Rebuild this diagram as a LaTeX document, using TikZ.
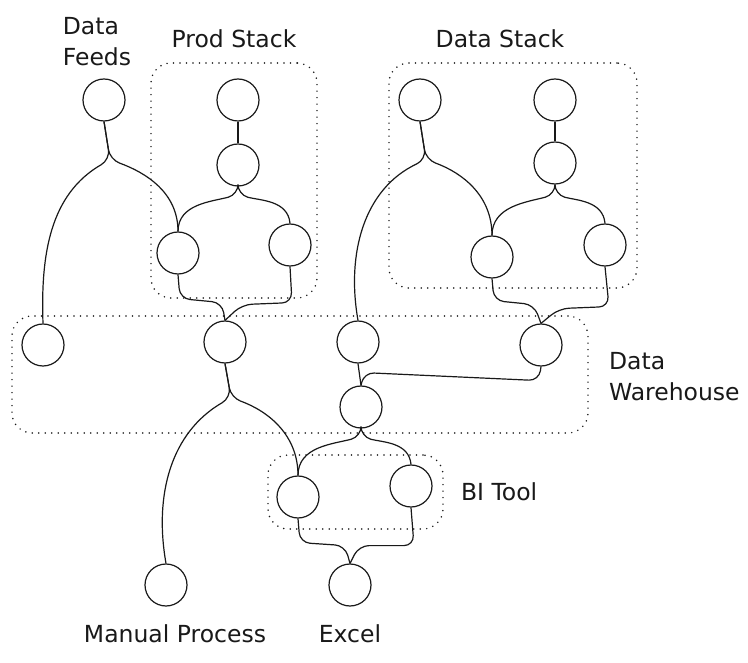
\documentclass[tikz,border=0pt]{standalone}
\usepackage{fontspec}
\setmainfont{DejaVu Sans}
\usepackage{tikz}
\usetikzlibrary{positioning}
\usetikzlibrary{calc}
\definecolor{color0}{RGB}{25,25,25}
\tikzstyle{circleNode} = [circle, draw=color0, line width=1.2pt, minimum size=42pt, inner sep=0pt]
\tikzstyle{groupBox} = [rectangle, draw=color0, rounded corners=20pt, line width=1.7pt, dash pattern=on 0pt off 6.5pt, line cap=round]
\tikzstyle{linkLine} = [draw=color0, line width=1.2pt, rounded corners=10pt]
\tikzstyle{labelText} = [text=color0, align=left, inner sep=0pt]

\begin{document}
\begin{tikzpicture}[font=\fontsize{23.5}{31}\selectfont]
	\useasboundingbox (0,0) rectangle (748pt,-663pt);
	
	\node[circleNode] at (104pt,-100pt) (Feed-A) {};
	
	\node[circleNode] at ([xshift=134pt]Feed-A.center) (Prod-A) {};
	\node[circleNode] at ([yshift=-65pt]Prod-A.center) (Prod-B) {};
	\node[circleNode] at ([xshift=-60pt, yshift=-88pt]Prod-B.center) (Prod-C) {};
	\node[circleNode] at ([xshift=52pt, yshift=-80pt]Prod-B.center) (Prod-D) {};
	
	\node[circleNode] at ([xshift=182pt]Prod-A.center) (Stack-A) {};
	\node[circleNode] at ([xshift=135pt]Stack-A.center) (Stack-B) {};
	\node[circleNode] at ([yshift=-63pt]Stack-B.center) (Stack-C) {};
	\node[circleNode] at ([xshift=-63pt, yshift=-94pt]Stack-C.center) (Stack-D) {};
	\node[circleNode] at ([xshift=50pt, yshift=-82pt]Stack-C.center) (Stack-E) {};
	
	\node[circleNode] at ([xshift=-61pt, yshift=-245pt]Feed-A.center) (Ware-A) {};
	\node[circleNode] at ([xshift=47pt, yshift=-89pt]Prod-C.center) (Ware-B) {};
	\node[circleNode] at ([xshift=133pt]Ware-B.center) (Ware-C) {};
	\node[circleNode] at ([xshift=49pt, yshift=-88pt]Stack-D.center) (Ware-D) {};
	\node[circleNode] at ([xshift=3pt, yshift=-65pt]Ware-C.center) (Ware-E) {};
	
	\node[circleNode] at ([xshift=-63pt, yshift=-90pt]Ware-E.center) (Tool-A) {};
	\node[circleNode] at ([xshift=50pt, yshift=-79pt]Ware-E.center) (Tool-B) {};
	
	\node[circleNode] at ([xshift=-59pt, yshift=-243pt]Ware-B.center) (Manual) {};
	\node[circleNode] at ([xshift=52pt, yshift=-88pt]Tool-A.center) (Excel) {};
	
	% group boxes
	\node[groupBox, minimum width=166pt, minimum height=235pt] at ([xshift=-4pt, yshift=-15.5pt]Prod-B.center) (Prod-Box) {};
	\node[groupBox, minimum width=248pt, minimum height=225pt] at ([xshift=-42pt, yshift=-12.5pt]Stack-C.center) (Stack-Box) {};
	\node[groupBox, minimum width=576pt, minimum height=117pt] at ([xshift=-58pt, yshift=-32.5pt]Ware-C.center) (Ware-Box) {};
	\node[groupBox, minimum width=175pt, minimum height=74pt] at ([xshift=-5.5pt, yshift=-85pt]Ware-E.center) (Tool-Box) {};
	
	% labels
	\node[labelText, anchor=south] at ([xshift=-7pt, yshift=12pt]Feed-A.north) (Feed-Label) {Data\\Feeds};
	\node[labelText, anchor=south] at ([yshift=14pt]Prod-Box.north) (Prod-Label) {Prod Stack};
	\node[labelText, anchor=south] at ([xshift=-13pt, yshift=14pt]Stack-Box.north) (Stack-Label) {Data Stack};
	\node[labelText, anchor=west] at ([xshift=20pt, yshift=-2pt]Ware-Box.east) (Ware-Label) {Data\\Warehouse};
	\node[labelText, anchor=west] at ([xshift=17pt]Tool-Box.east) (Tool-Label) {BI Tool};
	\node[labelText, anchor=north] at ([xshift=9pt, yshift=-18pt]Manual.south) (Manual-Label) {Manual Process};
	\node[labelText, anchor=north] at ([yshift=-18pt]Excel.south) (Excel-Label) {Excel};
	
	% links
	\draw[linkLine] (Feed-A.south) -- ++(6pt,-38pt) to[out=-150, in=92] (Ware-A.north);
	\draw[linkLine] (Feed-A.south) -- ++(6pt,-38pt) to[out=-20, in=90] (Prod-C.north);
	\draw[linkLine] (Prod-A.south) -- (Prod-B.north);
	\draw[linkLine] (Prod-B.south) -- ++(0,-8pt) to[out=-165, in=90] (Prod-C.north);
	\draw[linkLine] (Prod-B.south) -- ++(0,-8pt) to[out=-15, in=95] (Prod-D.north);
	\draw[linkLine] (Prod-C.south) -- ++(2pt,-24pt) -- ++(42pt,-4pt) -- (Ware-B.north);
	\draw[linkLine] (Prod-D.south) -- ++(2pt,-36pt) -- ++(-50pt,-2pt) -- (Ware-B.north);
	
	\draw[linkLine] (Stack-A.south) -- ++(6pt,-38pt) to[out=-155, in=100] (Ware-C.north);
	\draw[linkLine] (Stack-A.south) -- ++(6pt,-38pt) to[out=-20, in=90] (Stack-D.north);
	\draw[linkLine] (Stack-B.south) -- (Stack-C.north);
	\draw[linkLine] (Stack-C.south) -- ++(0,-10pt) to[out=-165, in=90] (Stack-D.north);
	\draw[linkLine] (Stack-C.south) -- ++(0,-10pt) to[out=-15, in=95] (Stack-E.north);
	\draw[linkLine] (Stack-D.south) -- ++(2pt,-22pt) -- ++(40pt,-4pt) -- (Ware-D.north);
	\draw[linkLine] (Stack-E.south) -- ++(4pt,-40pt) -- ++(-50pt,-2pt) -- (Ware-D.north);
	
	\draw[linkLine] (Ware-C.south) -- (Ware-E.north);
	\draw[linkLine] (Ware-D.south) -- ++(-2pt,-14pt) -- ++(-175pt,8pt) -- (Ware-E.north);
	\draw[linkLine] (Ware-B.south) -- ++(6pt,-34pt) to[out=-150, in=100] (Manual.north);
	\draw[linkLine] (Ware-B.south) -- ++(6pt,-34pt) to[out=-20, in=90] (Tool-A.north);
	\draw[linkLine] (Ware-E.south) -- ++(0,-8pt) to[out=-165, in=90] (Tool-A.north);
	\draw[linkLine] (Ware-E.south) -- ++(0,-8pt) to[out=-15, in=95] (Tool-B.north);
	
	\draw[linkLine] (Tool-A.south) -- ++(2pt,-24pt) -- ++(45pt,-3pt) -- (Excel.north);
	\draw[linkLine] (Tool-B.south) -- ++(3pt,-38pt) -- ++(-55pt,0) -- (Excel.north);
	
\end{tikzpicture}
\end{document}
